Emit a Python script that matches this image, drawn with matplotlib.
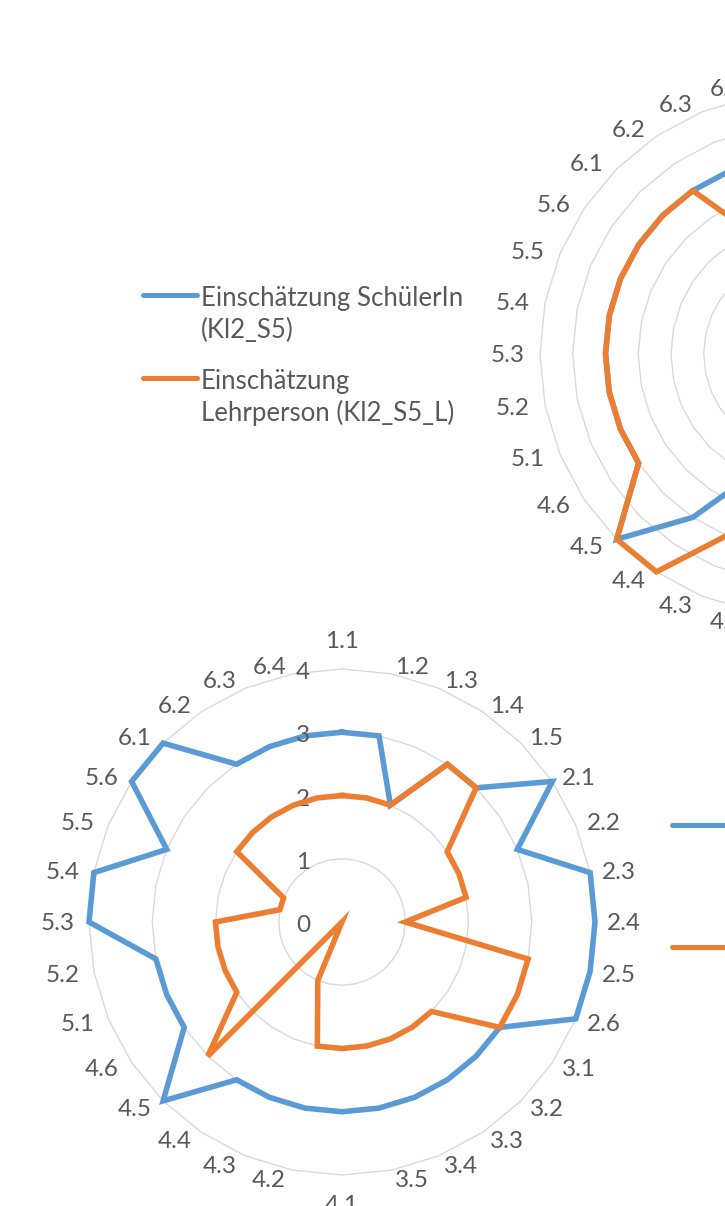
import numpy as np
import matplotlib.pyplot as plt
from matplotlib.lines import Line2D

plt.rcParams['font.family'] = ['Lato', 'DejaVu Sans']

categories = ["1.1", "1.2", "1.3", "1.4", "1.5",
              "2.1", "2.2", "2.3", "2.4", "2.5", "2.6",
              "3.1", "3.2", "3.3", "3.4", "3.5",
              "4.1", "4.2", "4.3", "4.4", "4.5", "4.6",
              "5.1", "5.2", "5.3", "5.4", "5.5", "5.6",
              "6.1", "6.2", "6.3", "6.4"]

# upper chart (only its left part is on the page)
top_schueler = [3, 3, 3, 3, 3, 3, 3, 3, 3, 3, 3, 3, 3, 3, 3, 3,
                2, 2, 2, 3, 4, 3, 3, 3, 3, 3, 3, 3, 3, 3, 3, 3]
top_lehrer = [3, 3, 3, 3, 3, 3, 3, 3, 3, 3, 3, 3, 3, 3, 3, 3,
              3, 3, 3, 4, 4, 3, 3, 3, 3, 3, 3, 3, 3, 3, 2, 3]
top_labels = ["Einschätzung SchülerIn\n(Kl2_S5)",
              "Einschätzung\nLehrperson (Kl2_S5_L)"]

# lower chart
bottom_schueler = [3, 3, 2, 3, 3, 4, 3, 4, 4, 4, 4, 3, 3, 3, 3, 3,
                   3, 3, 3, 3, 4, 3, 3, 3, 4, 4, 3, 4, 4, 3, 3, 3]
bottom_lehrer = [2, 2, 2, 3, 3, 2, 2, 2, 1, 3, 3, 3, 2, 2, 2, 2,
                 2, 2, 1, 0, 3, 2, 2, 2, 2, 1, 1, 2, 2, 2, 2, 2]
bottom_labels = ["Einschätzung SchülerIn\n(Kl2_S6)",
                 "Einschätzung\nLehrperson (Kl2_S6_L)"]

BLUE = "#5B9BD5"
ORANGE = "#ED7D31"
GRID = "#D9D9D9"
TEXT = "#595959"
FS = 17.5
FS_LEG = 18.5

W, H = 725, 1206
fig = plt.figure(figsize=(W / 100, H / 100), dpi=100)


def radar(cx, cy, rad, s_vals, l_vals, rmax, rstep, ticks):
    # cx, cy, rad in page pixels (y from top)
    ax = fig.add_axes([(cx - rad) / W, (H - cy - rad) / H, 2 * rad / W, 2 * rad / H],
                      projection='polar')
    ax.set_theta_zero_location('N')
    ax.set_theta_direction(-1)
    ax.set_ylim(0, rmax)
    ax.axis('off')
    n = len(categories)
    theta = np.arange(n) * 2 * np.pi / n
    closed = np.append(theta, theta[0])

    for r in np.arange(rstep, rmax + 1e-9, rstep):
        ax.plot(closed, np.full(n + 1, r), color=GRID, lw=1.0, zorder=1, clip_on=False)

    ax.plot(closed, np.append(s_vals, s_vals[0]), color=BLUE, lw=4.0, zorder=3,
            clip_on=False, solid_joinstyle='miter')
    ax.plot(closed, np.append(l_vals, l_vals[0]), color=ORANGE, lw=4.0, zorder=4,
            clip_on=False, solid_joinstyle='miter')

    k = rad / 253.0
    for t, lab in zip(theta, categories):
        s, c = np.sin(t), np.cos(t)
        if abs(s) < 1e-6:
            dx, dy = 0.0, 29.0 * np.sign(c)
        else:
            dx = np.sign(s) * (18.5 + 10 * abs(s) + (3 if s < 0 else 0))
            dy = 9.0 * c
        ax.annotate(lab, xy=(t, rmax), xytext=(dx * k, dy * k - 8.5),
                    textcoords='offset pixels', ha='center', va='baseline',
                    fontsize=FS, color=TEXT, annotation_clip=False)

    for v in ticks:
        txt = ("%g" % v).replace(".", ",")
        ax.annotate(txt, xy=(0, v), xytext=(-39 * k, -10),
                    textcoords='offset pixels', ha='center', va='baseline',
                    fontsize=FS, color=TEXT, annotation_clip=False)
    return ax


radar(802, 354, 262, top_schueler, top_lehrer, 4, 0.5, np.arange(0, 4.01, 0.5))
radar(342, 922, 253, bottom_schueler, bottom_lehrer, 4, 1, np.arange(0, 5, 1))


def legend(x0, x1, ys, labels, gap=32):
    for y, lab, col in zip(ys, labels, [BLUE, ORANGE]):
        fig.add_artist(Line2D([x0 / W, x1 / W], [1 - y / H, 1 - y / H], color=col,
                              lw=3.6, solid_capstyle='round'))
        for j, line in enumerate(lab.split("\n")):
            fig.text((x1 + 4) / W, 1 - (y + 11 + j * gap) / H, line, ha='left',
                     va='baseline', fontsize=FS_LEG, color=TEXT)


legend(143, 197, [295, 378], top_labels)
legend(672, 726, [825, 947], bottom_labels)

fig.savefig("out.png", dpi=100, facecolor="white")
